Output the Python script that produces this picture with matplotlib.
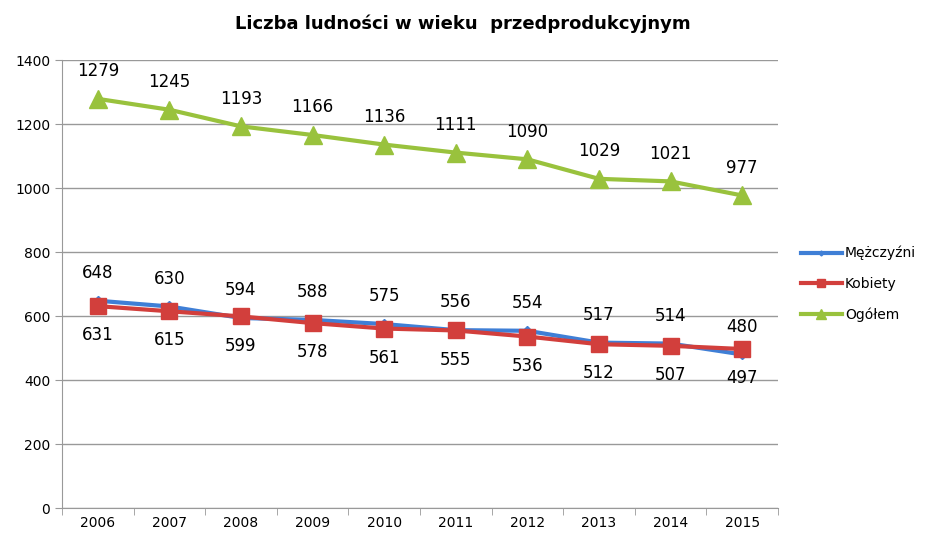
import matplotlib
matplotlib.use('Agg')
import matplotlib.pyplot as plt
import numpy as np

years = ['2006', '2007', '2008', '2009', '2010', '2011', '2012', '2013', '2014', '2015']
men = [648, 630, 594, 588, 575, 556, 554, 517, 514, 480]
women = [631, 615, 599, 578, 561, 555, 536, 512, 507, 497]
total = [1279, 1245, 1193, 1166, 1136, 1111, 1090, 1029, 1021, 977]

fig = plt.figure(figsize=(9.25, 5.37), dpi=100)
ax = fig.add_axes([0.067, 0.054, 0.774, 0.834])

x = np.arange(len(years))
ax.plot(x, men, color='#3f7fd6', lw=3, marker='D', ms=5, label='Mężczyźni', zorder=3)
ax.plot(x, women, color='#d23f3c', lw=3, marker='s', ms=12, label='Kobiety', zorder=4)
ax.plot(x, total, color='#99c23d', lw=3, marker='^', ms=13, label='Ogółem', zorder=3)

for i in range(len(years)):
    ax.annotate(str(total[i]), (x[i], total[i]), xytext=(0, 20), textcoords='offset points',
                ha='center', va='center', fontsize=12)
    ax.annotate(str(men[i]), (x[i], men[i]), xytext=(0, 20), textcoords='offset points',
                ha='center', va='center', fontsize=12)
    ax.annotate(str(women[i]), (x[i], women[i]), xytext=(0, -21), textcoords='offset points',
                ha='center', va='center', fontsize=12)

ax.set_xlim(-0.5, len(years) - 0.5)
ax.set_ylim(0, 1400)
ax.set_yticks(range(0, 1401, 200))
ax.set_xticks(x)
ax.set_xticklabels(years)
ax.set_xticks(np.arange(-0.5, len(years), 1), minor=True)
ax.tick_params(axis='x', which='major', length=0, labelsize=10, pad=6)
ax.tick_params(axis='x', which='minor', length=5, color='#999999')
ax.tick_params(axis='y', length=5, color='#999999', labelsize=10)
ax.grid(axis='y', color='#999999', lw=1)
ax.set_axisbelow(True)
for s in ['top', 'right']:
    ax.spines[s].set_visible(False)
for s in ['left', 'bottom']:
    ax.spines[s].set_color('#999999')

ax.legend(loc='center left', bbox_to_anchor=(1.02, 0.5), frameon=False, fontsize=10,
          handlelength=3, labelspacing=1.2, handletextpad=0.2, markerscale=0.5,
          borderaxespad=0.2)

fig.text(0.5, 0.955, 'Liczba ludności w wieku  przedprodukcyjnym', ha='center', va='center',
         fontsize=13, fontweight='bold')

fig.savefig('out.png', dpi=100)
